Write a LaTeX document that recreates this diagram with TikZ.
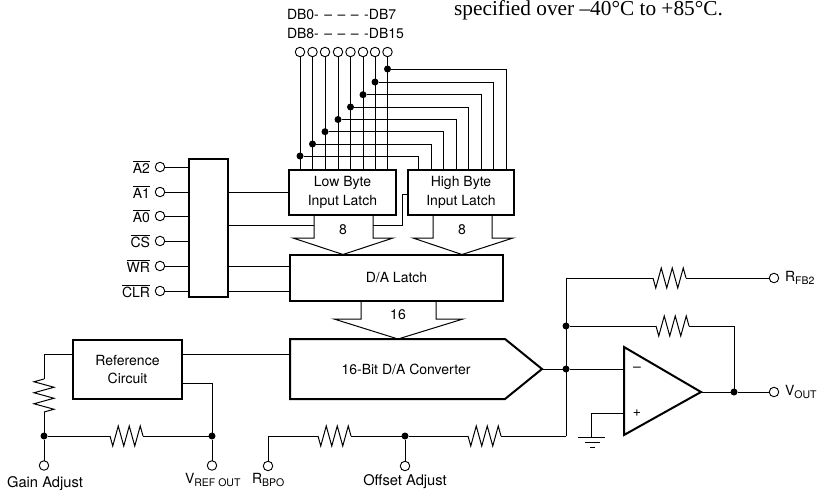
\documentclass[tikz,border=0pt]{standalone}
\usepackage{fontspec}
\setmainfont{TeX Gyre Heros}
\newfontfamily\serifnote{Liberation Serif}
\usetikzlibrary{decorations.pathmorphing}
\newcommand{\subs}[1]{{\fontsize{10.5}{10.5}\selectfont\raisebox{-3.5pt}{#1}}}
\newcommand{\ovl}[1]{$\overline{\mbox{#1}}$}
\tikzset{
  wire/.style={line width=1pt,line join=miter},
  heavy/.style={line width=2pt,line join=miter},
  box/.style={draw,line width=2pt,outer sep=0pt,inner sep=0pt,align=center,fill=white,font=\fontsize{14}{18.7}\selectfont},
  ghost/.style={outer sep=0pt,inner sep=0pt,align=center,font=\fontsize{14}{18.7}\selectfont},
  pin/.style={circle,draw,line width=0.9pt,fill=white,minimum size=9.5pt,inner sep=0pt,outer sep=0pt},
  dot/.style={circle,fill=black,minimum size=7pt,inner sep=0pt,outer sep=0pt},
  txt/.style={inner sep=0pt,outer sep=0pt,font=\fontsize{14}{16}\selectfont},
  wide/.style={inner sep=0pt,outer sep=0pt,font=\fontsize{14.7}{16}\selectfont},
  res/.style={wire,decorate,decoration={zigzag,segment length=11pt,amplitude=10pt,mirror}},
}
\begin{document}
\begin{tikzpicture}[x=1pt,y=-1pt]
\useasboundingbox (0,0) rectangle (817,490);

% boxes
\node[box,minimum width=39pt,minimum height=138pt] (dec) at (208.5,228) {};
\node[box,minimum width=107pt,minimum height=45pt] (low) at (342.5,192.5) {Low Byte\\Input Latch};
\node[box,minimum width=106pt,minimum height=45pt] (high) at (461,192.5) {High Byte\\Input Latch};
\node[box,minimum width=213pt,minimum height=46pt] (dal) at (396.5,278) {D/A Latch};
\node[box,minimum width=109pt,minimum height=59pt] (ref) at (127.5,369.5) {Reference\\Circuit};
\node[ghost,minimum width=215pt,minimum height=60pt] (dac) at (397.5,369) {};
\coordinate (dactip) at (542,369);
\draw[heavy] (dac.north west) -- (dac.north east) -- (dactip) -- (dac.south east) -- (dac.south west) -- cycle;
\node[ghost] (dactext) at (406,369) {16-Bit D/A Converter};

% data pins and bus
\foreach \i/\x/\y/\e in {0/300/156/418,1/312.5/144/431,2/325/131.7/443,3/338/119.5/456,4/350.5/107/468,5/363/94.7/481,6/375/82/493,7/387.5/69/506}{
  \node[pin] (p\i) at (\x,52) {};
  \node[dot] (d\i) at (\x,\y) {};
  \coordinate (h\i) at (\e,170);
  \draw[wire] (p\i.south) -- (low.north -| p\i);
  \draw[wire] (d\i) -| (h\i);
}
\node[txt,anchor=west] (dba) at (287,15) {DB0-\hspace{5.5pt}–\hspace{5.5pt}–\hspace{5.5pt}–\hspace{5.5pt}-DB7};
\node[txt,anchor=west] (dbb) at (287,34) {DB8-\hspace{5.5pt}–\hspace{5.5pt}–\hspace{5.5pt}–\hspace{5.5pt}-DB15};
\node[anchor=base west,inner sep=0pt,font=\fontsize{21.3}{22}\serifnote] (note) at (454,15.5) {specified over –40°C to +85°C.};

% control inputs
\foreach \n/\t/\y in {a2/A2/167,a1/A1/192,a0/A0/216,cs/CS/241,wr/WR/266,clr/CLR/291}{
  \node[pin] (\n) at (160,\y) {};
  \node[txt,anchor=east] (l\n) at (150,\y) {\ovl{\t}};
  \draw[wire] (\n.east) -- (dec.west |- \n);
}
\draw[wire] (dec.east |- low) -- (low.west);
\coordinate (w1) at (290,266);
\coordinate (w2) at (290,291);
\draw[wire] (dec.east |- w1) -- (dal.west |- w1);
\draw[wire] (dec.east |- w2) -- (dal.west |- w2);

% bus arrows
\coordinate (s1) at (314,225.5);
\coordinate (s2) at (373,225.5);
\coordinate (t1) at (343,254.5);
\coordinate (t2) at (462,254.5);
\coordinate (t3) at (398,339);
\draw[wire] (314,215) -- (314,238) -- (293,238) -- (t1) -- (393,238) -- (373,238) -- (373,215);
\draw[wire] (433,215) -- (433,238) -- (413,238) -- (t2) -- (513,238) -- (492,238) -- (492,215);
\draw[wire] (361,301) -- (361,319) -- (334,319) -- (t3) -- (463,319) -- (436,319) -- (436,301);
\node[txt] (n8a) at (343,230) {8};
\node[txt] (n8b) at (462,230) {8};
\node[txt] (n16) at (398,315) {16};
\draw[wire] (dec.east |- s1) -- (s1);
\coordinate (j1) at (402,194);
\draw[wire] (s2) -| (j1) -- (high.west |- j1);

% reference
\coordinate (refa) at (182,354);
\coordinate (refb) at (182,383);
\draw[wire] (refa) -- (dac.west |- refa);
\node[dot] (dg) at (44,436) {};
\node[dot] (dv) at (212,436) {};
\node[pin] (pg) at (44,465.5) {};
\node[pin] (pv) at (212,465.5) {};
\coordinate (rv1) at (44,379);
\coordinate (rv2) at (44,412);
\coordinate (refl) at (73,354);
\draw[wire] (refl) -| (rv1);
\draw[res] (rv1) -- (rv2);
\draw[wire] (rv2) -- (dg);
\draw[wire] (dg) -- (pg.north);
\draw[wire] (refb) -| (dv);
\draw[wire] (dv) -- (pv.north);
\coordinate (rh1) at (110,436);
\coordinate (rh2) at (143,436);
\draw[wire] (dg) -- (rh1);
\draw[res] (rh1) -- (rh2);
\draw[wire] (rh2) -- (dv);
\node[wide] (lg) at (45,484) {Gain Adjust};
\node[txt,anchor=west] (lv) at (185,480) {V\subs{REF OUT}};
\node[txt,anchor=west] (lb) at (252,480) {R\subs{BPO}};
\node[wide] (lo) at (405,482) {Offset Adjust};

% offset network
\node[pin] (pb) at (268,466) {};
\node[pin] (po) at (405,466) {};
\node[dot] (do) at (405,436) {};
\coordinate (ro1) at (318,436);
\coordinate (ro2) at (351,436);
\coordinate (ro3) at (468,436);
\coordinate (ro4) at (501,436);
\coordinate (sj) at (566,436);
\draw[wire] (pb.north) |- (ro1);
\draw[res] (ro1) -- (ro2);
\draw[wire] (ro2) -- (do) -- (ro3);
\draw[res] (ro3) -- (ro4);
\draw[wire] (do) -- (po.north);
\draw[wire] (ro4) -- (sj);

% amplifier
\coordinate (oa) at (624,347);
\coordinate (ob) at (624,435);
\coordinate (oc) at (701,392);
\coordinate (om) at (624,369);
\coordinate (op) at (624,413);
\draw[heavy] (oa) -- (oc) -- (ob) -- cycle;
\node[txt] (lm) at (637,369) {–};
\node[txt] (lp) at (637,413) {+};
\node[dot] (dm) at (566,369) {};
\node[dot] (df) at (566,326) {};
\node[dot] (dout) at (734,392) {};
\node[pin] (pf) at (774,278) {};
\node[pin] (pout) at (774,392) {};
\coordinate (top) at (566,278);
\coordinate (rt1) at (653,278);
\coordinate (rt2) at (686,278);
\coordinate (rm1) at (656,326);
\coordinate (rm2) at (689,326);
\coordinate (fb) at (734,326);
\draw[wire] (dactip) -- (dm) -- (om);
\draw[wire] (sj) -- (top) -- (rt1);
\draw[res] (rt1) -- (rt2);
\draw[wire] (rt2) -- (pf.west);
\draw[wire] (df) -- (rm1);
\draw[res] (rm1) -- (rm2);
\draw[wire] (rm2) -- (fb) -- (dout);
\draw[wire] (oc) -- (dout) -- (pout.west);
\node[txt,anchor=west] (lf) at (785,278) {R\subs{FB2}};
\node[txt,anchor=west] (lout) at (785,392) {V\subs{OUT}};

% ground
\coordinate (g0) at (591,437);
\draw[wire] (op) -| (g0);
\draw[wire] (578,437) -- (605,437);
\draw[wire] (585,442) -- (600,442);
\draw[wire] (590,447) -- (595,447);
\end{tikzpicture}
\end{document}
